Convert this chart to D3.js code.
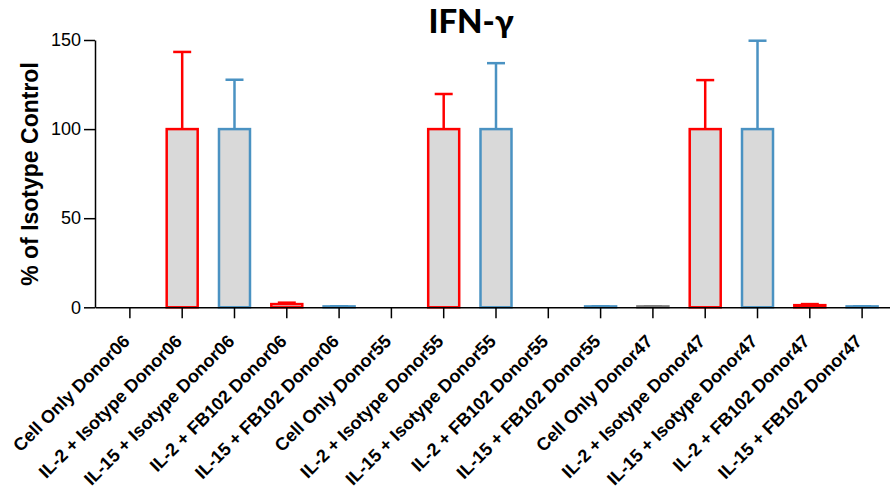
<!DOCTYPE html>
<html>
<head>
<meta charset="utf-8">
<script src="https://cdn.jsdelivr.net/npm/d3@7"></script>
<style>
  body { margin: 0; background: #fff; }
  text { font-family: "Liberation Sans", Arial, sans-serif; }
</style>
</head>
<body>
<div id="chart"></div>
<script>
// categories along the x axis
var categories = [
    "Cell Only Donor06", "IL-2 + Isotype Donor06", "IL-15 + Isotype Donor06", "IL-2 + FB102 Donor06", "IL-15 + FB102 Donor06",
    "Cell Only Donor55", "IL-2 + Isotype Donor55", "IL-15 + Isotype Donor55", "IL-2 + FB102 Donor55", "IL-15 + FB102 Donor55",
    "Cell Only Donor47", "IL-2 + Isotype Donor47", "IL-15 + Isotype Donor47", "IL-2 + FB102 Donor47", "IL-15 + FB102 Donor47"
];
// mean % of isotype control
var means = [0, 100, 100, 1.8, 0.5, 0, 100, 100, 0, 0.5, 0.5, 100, 100, 1.2, 0.5];
// upper error (mean + SD)
var upper = [0, 143.3, 127.7, 2.6, 0.6, 0, 119.7, 137, 0, 0.6, 0.6, 127.5, 149.6, 1.8, 0.6];
// group of each bar: cell, il2, il15
var groups = ["cell", "il2", "il15", "il2", "il15", "cell", "il2", "il15", "il2", "il15", "cell", "il2", "il15", "il2", "il15"];
var yTicks = [0, 50, 100, 150];

var colors = { cell: "#7f7f7f", il2: "#ff0000", il15: "#4a92c2" };

var width = 890, height = 490;

var svg = d3.select("#chart").append("svg")
    .attr("width", width)
    .attr("height", height);

var x = d3.scaleBand()
    .domain(categories)
    .range([95, 897])
    .paddingInner(0)
    .paddingOuter(0.167);

var y = d3.scaleLinear()
    .domain([0, 150])
    .range([307.3, 40]);

var barW = 31, capW = 18;

var data = categories.map(function(c, i) {
    return { cat: c, mean: means[i], up: upper[i], group: groups[i] };
});

var cx = function(d) { return x(d.cat) + x.bandwidth() / 2; };

// bars
svg.append("g").selectAll("rect")
    .data(data.filter(function(d) { return d.mean > 0; }))
    .enter().append("rect")
    .attr("x", function(d) { return cx(d) - barW / 2; })
    .attr("y", function(d) { return y(d.mean); })
    .attr("width", barW)
    .attr("height", function(d) { return y(0) - y(d.mean); })
    .attr("fill", "#d9d9d9")
    .attr("stroke", function(d) { return colors[d.group]; })
    .attr("stroke-width", 2.5);

// error bars
var err = svg.append("g").selectAll("g")
    .data(data.filter(function(d) { return d.up > d.mean; }))
    .enter().append("g")
    .attr("stroke", function(d) { return colors[d.group]; })
    .attr("stroke-width", 2.5);

err.append("line")
    .attr("x1", cx).attr("x2", cx)
    .attr("y1", function(d) { return y(d.mean); })
    .attr("y2", function(d) { return y(d.up); });

err.append("line")
    .attr("x1", function(d) { return cx(d) - capW / 2; })
    .attr("x2", function(d) { return cx(d) + capW / 2; })
    .attr("y1", function(d) { return y(d.up); })
    .attr("y2", function(d) { return y(d.up); });

// y axis
var yAxis = svg.append("g")
    .attr("transform", "translate(95,0)")
    .call(d3.axisLeft(y).tickValues(yTicks).tickSize(11).tickSizeOuter(0).tickPadding(3));
yAxis.selectAll("text").attr("font-size", 18).attr("fill", "#000")
    .style("font-family", "Liberation Sans, Arial, sans-serif");
yAxis.selectAll("line, path").attr("stroke", "#000").attr("stroke-width", 1.5);

// x axis
var xAxis = svg.append("g")
    .attr("transform", "translate(0," + y(0) + ")")
    .call(d3.axisBottom(x).tickSize(11).tickSizeOuter(0));
xAxis.selectAll("line, path").attr("stroke", "#000").attr("stroke-width", 1.5);
xAxis.selectAll("text")
    .attr("font-size", 18)
    .attr("font-weight", "bold")
    .attr("fill", "#000")
    .style("font-family", "Liberation Sans, Arial, sans-serif")
    .style("text-anchor", "end")
    .attr("x", 0)
    .attr("y", 0)
    .attr("dy", "0")
    .attr("transform", "translate(1,35) rotate(-45)");

// y label
svg.append("text")
    .attr("transform", "translate(38,174) rotate(-90)")
    .attr("text-anchor", "middle")
    .attr("font-size", 23)
    .attr("font-weight", "bold")
    .text("% of Isotype Control");

// title
svg.append("text")
    .attr("x", 471)
    .attr("y", 33)
    .attr("text-anchor", "middle")
    .attr("font-size", 33)
    .attr("font-weight", 900)
    .style("font-family", "Lato, sans-serif")
    .text("IFN-γ");
</script>
</body>
</html>
